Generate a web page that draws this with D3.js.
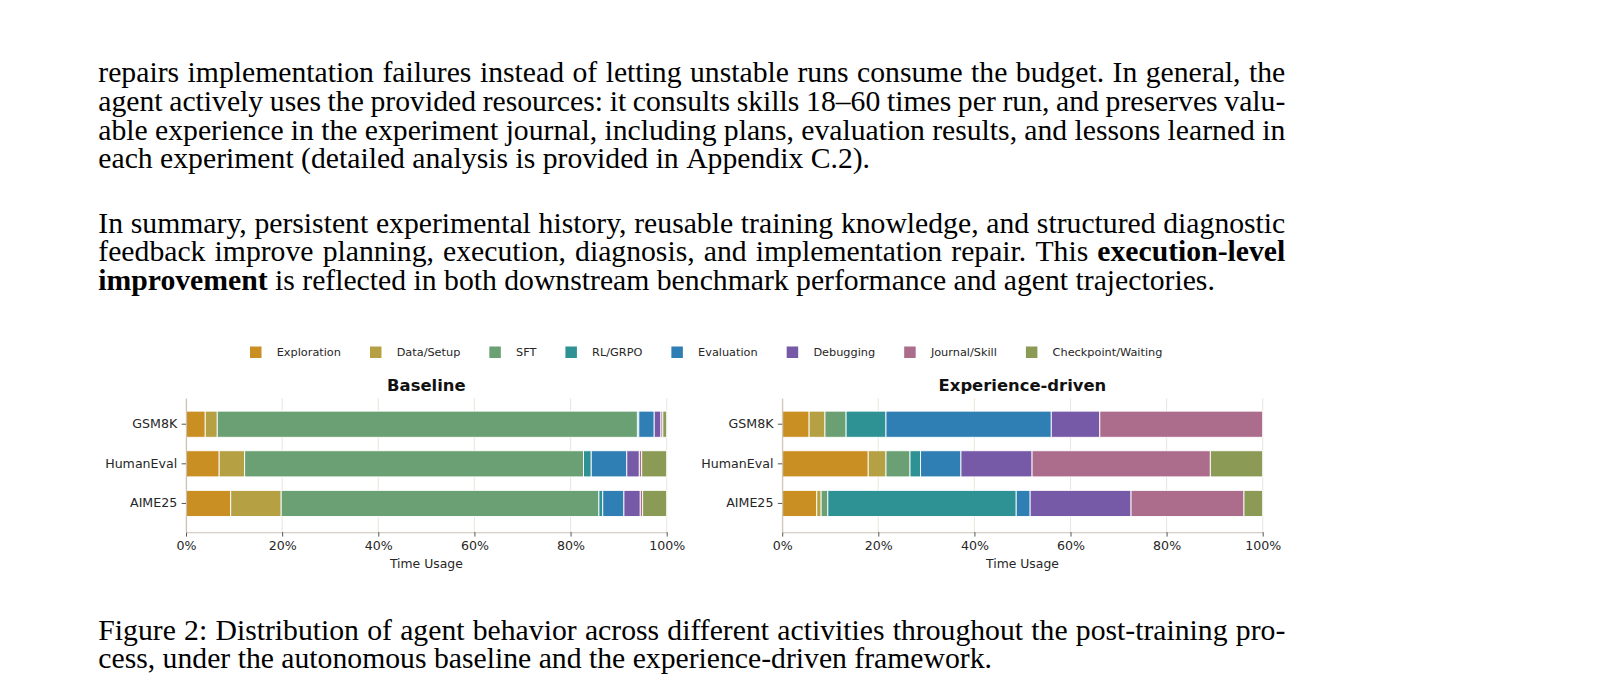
<!DOCTYPE html>
<html><head><meta charset="utf-8">
<script src="https://cdn.jsdelivr.net/npm/d3@7"></script>
<style>body{margin:0;background:#fff}svg{display:block}</style>
</head><body>
<svg id="c" width="1610" height="698"></svg>
<script>
// ---------- data ----------
const categories = ["GSM8K", "HumanEval", "AIME25"];
const activities = ["Exploration", "Data/Setup", "SFT", "RL/GRPO", "Evaluation", "Debugging", "Journal/Skill", "Checkpoint/Waiting"];
const activityColors = ["#c98f23", "#b5a144", "#6aa073", "#2e9294", "#2f7fb4", "#7659a7", "#ac6d8c", "#8b9a55"];
const xTicks = [0, 20, 40, 60, 80, 100];
const panelTitles = ["Baseline", "Experience-driven"];
const xLabel = "Time Usage";

// percent of time per activity (order = activities)
const baselineGSM8K     = [4.0, 2.5, 87.4, 0.3, 3.2, 1.4, 0.4, 0.8];
const baselineHumanEval = [6.9, 5.3, 70.5, 1.6, 7.4, 2.6, 0.5, 5.2];
const baselineAIME25    = [9.3, 10.5, 66.1, 0.8, 4.4, 3.4, 0.5, 5.0];
const expGSM8K          = [5.6, 3.3, 4.4, 8.3, 34.4, 10.1, 33.9, 0.0];
const expHumanEval      = [17.9, 3.7, 5.0, 2.2, 8.4, 14.8, 37.1, 10.9];
const expAIME25         = [7.2, 0.9, 1.4, 39.2, 2.9, 21.0, 23.5, 3.9];

const para1 = [
  "repairs implementation failures instead of letting unstable runs consume the budget. In general, the",
  "agent actively uses the provided resources: it consults skills 18–60 times per run, and preserves valu-",
  "able experience in the experiment journal, including plans, evaluation results, and lessons learned in",
  "each experiment (detailed analysis is provided in Appendix C.2)."
];
const para2 = [
  "In summary, persistent experimental history, reusable training knowledge, and structured diagnostic",
  "feedback improve planning, execution, diagnosis, and implementation repair. This **execution-level**",
  "**improvement** is reflected in both downstream benchmark performance and agent trajectories."
];
const caption = [
  "Figure 2: Distribution of agent behavior across different activities throughout the post-training pro-",
  "cess, under the autonomous baseline and the experience-driven framework."
];

// ---------- layout ----------
const svg = d3.select("#c");
svg.append("rect").attr("width", 1610).attr("height", 698).attr("fill", "#fff");
const SERIF = "'Liberation Serif', 'Times New Roman', serif";
const SANS = "'DejaVu Sans', sans-serif";
const FS = 29.7, TX0 = 98.3, TW = 1187;

const bodyG = svg.append("g");
function drawLine(line, y, justify) {
  const words = line.split(" ").map(w => {
    const b = /^\*\*.*\*\*$/.test(w);
    return { t: b ? w.slice(2, -2) : w, b };
  });
  const text = bodyG.append("text").attr("y", y)
    .attr("font-family", SERIF).attr("font-size", FS).attr("fill", "#000");
  const spans = text.selectAll("tspan").data(words).join("tspan")
    .text(d => d.t).attr("font-weight", d => d.b ? "bold" : null);
  const widths = spans.nodes().map(n => n.getComputedTextLength());
  const total = d3.sum(widths);
  const gap = justify ? (TW - total) / (words.length - 1) : FS * 0.25;
  const xs = []; let x = TX0;
  widths.forEach(w => { xs.push(x); x += w + gap; });
  spans.attr("x", (d, i) => xs[i]);
}
function drawPara(lines, y0, lead) {
  lines.forEach((l, i) => drawLine(l, y0 + i * lead, i < lines.length - 1));
}
drawPara(para1, 81.7, 28.9);
drawPara(para2, 232.5, 28.9);
drawPara(caption, 639.5, 28.8);

// ---------- legend ----------
const color = d3.scaleOrdinal(activities, activityColors);
const legG = svg.append("g");
let lx = 250;
activities.forEach(a => {
  legG.append("rect").attr("x", lx).attr("y", 346.5).attr("width", 11.5).attr("height", 11.5).attr("fill", color(a));
  const t = legG.append("text").attr("x", lx + 26.7).attr("y", 356.2)
    .attr("font-family", SANS).attr("font-size", 11.3).attr("fill", "#262626").text(a);
  lx += 26.7 + t.node().getComputedTextLength() + 29;
});

// ---------- panels ----------
const yTop = 398.3, yBot = 532.2;
const y = d3.scaleBand().domain(categories).range([yTop, yBot])
  .paddingInner(0.34).paddingOuter(0.36).align(0.45);

function panel(px0, px1, title, rows) {
  const g = svg.append("g");
  const x = d3.scaleLinear().domain([0, 100]).range([px0, px1]);
  // grid
  g.append("g").selectAll("line").data(xTicks).join("line")
    .attr("x1", d => x(d)).attr("x2", d => x(d)).attr("y1", yTop).attr("y2", yBot)
    .attr("stroke", "#ebe7e0").attr("stroke-width", 1.1);
  // bars
  const data = rows.map((r, i) => { const o = { cat: categories[i] }; activities.forEach((a, k) => o[a] = r[k]); return o; });
  const series = d3.stack().keys(activities)(data);
  g.append("g").selectAll("g").data(series).join("g")
    .attr("fill", s => color(s.key))
    .selectAll("rect").data(s => s).join("rect")
    .attr("x", d => x(d[0])).attr("width", d => Math.max(0, x(d[1]) - x(d[0])))
    .attr("y", d => y(d.data.cat)).attr("height", y.bandwidth())
    .attr("stroke", "#fff").attr("stroke-width", d => (d[1] - d[0]) > 0 ? 0.9 : 0);
  // x axis
  const xa = g.append("g").attr("transform", `translate(0,${yBot})`)
    .call(d3.axisBottom(x).tickValues(xTicks).tickFormat(d => d + "%").tickSize(4.4).tickPadding(4.2).tickSizeOuter(0));
  // y axis
  const ya = g.append("g").attr("transform", `translate(${px0},0)`)
    .call(d3.axisLeft(y).tickSize(4.4).tickPadding(4.4).tickSizeOuter(0));
  [xa, ya].forEach(a => {
    a.select(".domain").attr("stroke", "#cbc2b4").attr("stroke-width", 1.1);
    a.selectAll(".tick line").attr("stroke", "#444").attr("stroke-width", 0.9);
    a.selectAll(".tick text").attr("font-family", SANS).attr("font-size", 12.6).attr("fill", "#262626");
  });
  const cx = (px0 + px1) / 2;
  g.append("text").attr("x", cx).attr("y", 391).attr("text-anchor", "middle")
    .attr("font-family", SANS).attr("font-size", 16.4).attr("font-weight", "bold").attr("fill", "#111").text(title);
  g.append("text").attr("x", cx).attr("y", 567.5).attr("text-anchor", "middle")
    .attr("font-family", SANS).attr("font-size", 12.4).attr("fill", "#262626").text(xLabel);
}
panel(186, 666.7, panelTitles[0], [baselineGSM8K, baselineHumanEval, baselineAIME25]);
panel(782.2, 1262.7, panelTitles[1], [expGSM8K, expHumanEval, expAIME25]);
</script>
</body></html>
